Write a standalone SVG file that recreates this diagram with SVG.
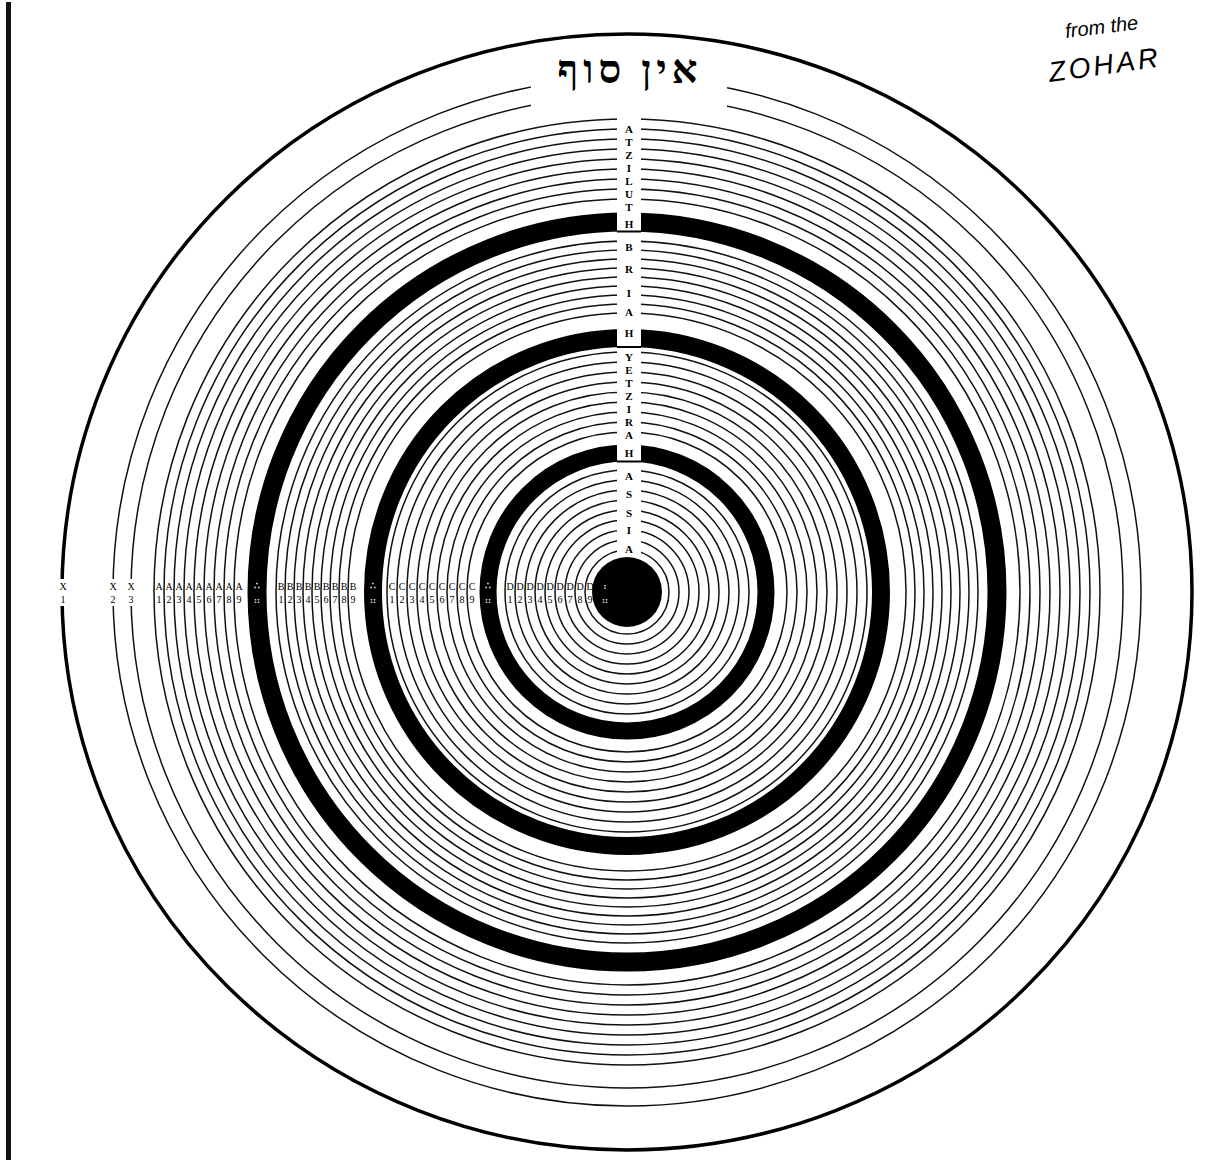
<svg xmlns="http://www.w3.org/2000/svg" width="1206" height="1162" viewBox="0 0 1206 1162">
<style>
.thin{fill:none;stroke:#111;stroke-width:1.5}
.ring{fill:none;stroke:#000}
.lbl{font-family:"Liberation Serif","DejaVu Serif",serif;font-size:10px;fill:#000;text-anchor:middle}
.wl{font-family:"Liberation Serif","DejaVu Serif",serif;font-size:9px;fill:#fff;text-anchor:middle;font-weight:bold}
.vl{font-family:"Liberation Serif","DejaVu Serif",serif;font-size:11px;fill:#000;text-anchor:middle;font-weight:bold}
.hand{font-family:"Liberation Sans","DejaVu Sans",sans-serif;font-style:italic;fill:#000}
</style>
<rect width="1206" height="1162" fill="#fff"/>
<rect id="scan-edge" x="6" y="2" width="5" height="1158" fill="#111"/>

<g id="circles">
<ellipse cx="627" cy="592" rx="565" ry="558" fill="none" stroke="#000" stroke-width="3.5"/>
<circle class="thin" cx="627" cy="592" r="514"/>
<circle class="thin" cx="627" cy="592" r="496"/>
<g id="zone-atziluth">
<circle class="thin" cx="627" cy="592" r="473"/>
<circle class="thin" cx="627" cy="592" r="463"/>
<circle class="thin" cx="627" cy="592" r="453"/>
<circle class="thin" cx="627" cy="592" r="443"/>
<circle class="thin" cx="627" cy="592" r="433"/>
<circle class="thin" cx="627" cy="592" r="423"/>
<circle class="thin" cx="627" cy="592" r="413"/>
<circle class="thin" cx="627" cy="592" r="403"/>
<circle class="thin" cx="627" cy="592" r="393"/>
</g>
<circle class="ring" cx="627" cy="592" r="370" stroke-width="19"/>
<g id="zone-briah">
<circle class="thin" cx="627" cy="592" r="351"/>
<circle class="thin" cx="627" cy="592" r="342"/>
<circle class="thin" cx="627" cy="592" r="333"/>
<circle class="thin" cx="627" cy="592" r="324"/>
<circle class="thin" cx="627" cy="592" r="315"/>
<circle class="thin" cx="627" cy="592" r="306"/>
<circle class="thin" cx="627" cy="592" r="297"/>
<circle class="thin" cx="627" cy="592" r="288"/>
<circle class="thin" cx="627" cy="592" r="279"/>
</g>
<circle class="ring" cx="627" cy="592" r="254" stroke-width="18"/>
<g id="zone-yetzirah">
<circle class="thin" cx="627" cy="592" r="240"/>
<circle class="thin" cx="627" cy="592" r="230"/>
<circle class="thin" cx="627" cy="592" r="220"/>
<circle class="thin" cx="627" cy="592" r="210"/>
<circle class="thin" cx="627" cy="592" r="200"/>
<circle class="thin" cx="627" cy="592" r="190"/>
<circle class="thin" cx="627" cy="592" r="180"/>
<circle class="thin" cx="627" cy="592" r="170"/>
<circle class="thin" cx="627" cy="592" r="160"/>
</g>
<circle class="ring" cx="627" cy="592" r="139" stroke-width="17"/>
<g id="zone-assiah">
<circle class="thin" cx="627" cy="592" r="122"/>
<circle class="thin" cx="627" cy="592" r="112"/>
<circle class="thin" cx="627" cy="592" r="102"/>
<circle class="thin" cx="627" cy="592" r="92"/>
<circle class="thin" cx="627" cy="592" r="82"/>
<circle class="thin" cx="627" cy="592" r="72"/>
<circle class="thin" cx="627" cy="592" r="62"/>
<circle class="thin" cx="627" cy="592" r="52"/>
<circle class="thin" cx="627" cy="592" r="42"/>
</g>
<circle id="core" cx="627" cy="592" r="35" fill="#000"/>
</g>

<g id="title">
<rect x="531" y="45" width="196" height="67" fill="#fff"/>
<text x="630" y="83" font-family="'Liberation Serif','DejaVu Sans',serif" font-weight="bold" font-size="40" text-anchor="middle" letter-spacing="5">אין סוף</text>
</g>

<g id="vertical-column">
<rect x="617" y="113" width="24" height="444" fill="#fff"/>
<rect x="617" y="230.5" width="24" height="2" fill="#000"/>
<rect x="617" y="346" width="24" height="2" fill="#000"/>
<rect x="617" y="460.5" width="24" height="2" fill="#000"/>
<g id="atziluth">
<text class="vl" x="629" y="133">A</text>
<text class="vl" x="629" y="146">T</text>
<text class="vl" x="629" y="159">Z</text>
<text class="vl" x="629" y="172">I</text>
<text class="vl" x="629" y="185">L</text>
<text class="vl" x="629" y="198">U</text>
<text class="vl" x="629" y="211">T</text>
<text class="vl" x="629" y="228">H</text>
</g>
<g id="briah">
<text class="vl" x="629" y="251">B</text>
<text class="vl" x="629" y="273">R</text>
<text class="vl" x="629" y="297">I</text>
<text class="vl" x="629" y="316">A</text>
<text class="vl" x="629" y="337">H</text>
</g>
<g id="yetzirah">
<text class="vl" x="629" y="361">Y</text>
<text class="vl" x="629" y="374">E</text>
<text class="vl" x="629" y="387">T</text>
<text class="vl" x="629" y="400">Z</text>
<text class="vl" x="629" y="413">I</text>
<text class="vl" x="629" y="426">R</text>
<text class="vl" x="629" y="439">A</text>
<text class="vl" x="629" y="457">H</text>
</g>
<g id="assiah">
<text class="vl" x="629" y="480">A</text>
<text class="vl" x="629" y="498">S</text>
<text class="vl" x="629" y="517">S</text>
<text class="vl" x="629" y="534">I</text>
<text class="vl" x="629" y="553">A</text>
<text class="vl" x="629" y="569" fill="#fff">H</text>
</g>
</g>

<g id="horizontal-labels">
<rect x="57" y="579" width="12" height="27" fill="#fff"/>
<rect x="108" y="579" width="11" height="27" fill="#fff"/>
<rect x="126" y="579" width="11" height="27" fill="#fff"/>
<text class="lbl" x="63" y="590">X</text><text class="lbl" x="63" y="603">1</text>
<text class="lbl" x="113" y="590">X</text><text class="lbl" x="113" y="603">2</text>
<text class="lbl" x="131" y="590">X</text><text class="lbl" x="131" y="603">3</text>
<g id="a-labels">
<text class="lbl" x="159" y="590">A</text><text class="lbl" x="159" y="603">1</text>
<text class="lbl" x="169" y="590">A</text><text class="lbl" x="169" y="603">2</text>
<text class="lbl" x="179" y="590">A</text><text class="lbl" x="179" y="603">3</text>
<text class="lbl" x="189" y="590">A</text><text class="lbl" x="189" y="603">4</text>
<text class="lbl" x="199" y="590">A</text><text class="lbl" x="199" y="603">5</text>
<text class="lbl" x="209" y="590">A</text><text class="lbl" x="209" y="603">6</text>
<text class="lbl" x="219" y="590">A</text><text class="lbl" x="219" y="603">7</text>
<text class="lbl" x="229" y="590">A</text><text class="lbl" x="229" y="603">8</text>
<text class="lbl" x="239" y="590">A</text><text class="lbl" x="239" y="603">9</text>
</g>
<text class="wl" x="257" y="589">∴</text><text class="wl" x="257" y="603">::</text>
<g id="b-labels">
<text class="lbl" x="281" y="590">B</text><text class="lbl" x="281" y="603">1</text>
<text class="lbl" x="290" y="590">B</text><text class="lbl" x="290" y="603">2</text>
<text class="lbl" x="299" y="590">B</text><text class="lbl" x="299" y="603">3</text>
<text class="lbl" x="308" y="590">B</text><text class="lbl" x="308" y="603">4</text>
<text class="lbl" x="317" y="590">B</text><text class="lbl" x="317" y="603">5</text>
<text class="lbl" x="326" y="590">B</text><text class="lbl" x="326" y="603">6</text>
<text class="lbl" x="335" y="590">B</text><text class="lbl" x="335" y="603">7</text>
<text class="lbl" x="344" y="590">B</text><text class="lbl" x="344" y="603">8</text>
<text class="lbl" x="353" y="590">B</text><text class="lbl" x="353" y="603">9</text>
</g>
<text class="wl" x="373" y="589">∴</text><text class="wl" x="373" y="603">::</text>
<g id="c-labels">
<text class="lbl" x="392" y="590">C</text><text class="lbl" x="392" y="603">1</text>
<text class="lbl" x="402" y="590">C</text><text class="lbl" x="402" y="603">2</text>
<text class="lbl" x="412" y="590">C</text><text class="lbl" x="412" y="603">3</text>
<text class="lbl" x="422" y="590">C</text><text class="lbl" x="422" y="603">4</text>
<text class="lbl" x="432" y="590">C</text><text class="lbl" x="432" y="603">5</text>
<text class="lbl" x="442" y="590">C</text><text class="lbl" x="442" y="603">6</text>
<text class="lbl" x="452" y="590">C</text><text class="lbl" x="452" y="603">7</text>
<text class="lbl" x="462" y="590">C</text><text class="lbl" x="462" y="603">8</text>
<text class="lbl" x="472" y="590">C</text><text class="lbl" x="472" y="603">9</text>
</g>
<text class="wl" x="488" y="589">∴</text><text class="wl" x="488" y="603">::</text>
<g id="d-labels">
<text class="lbl" x="510" y="590">D</text><text class="lbl" x="510" y="603">1</text>
<text class="lbl" x="520" y="590">D</text><text class="lbl" x="520" y="603">2</text>
<text class="lbl" x="530" y="590">D</text><text class="lbl" x="530" y="603">3</text>
<text class="lbl" x="540" y="590">D</text><text class="lbl" x="540" y="603">4</text>
<text class="lbl" x="550" y="590">D</text><text class="lbl" x="550" y="603">5</text>
<text class="lbl" x="560" y="590">D</text><text class="lbl" x="560" y="603">6</text>
<text class="lbl" x="570" y="590">D</text><text class="lbl" x="570" y="603">7</text>
<text class="lbl" x="580" y="590">D</text><text class="lbl" x="580" y="603">8</text>
<text class="lbl" x="590" y="590">D</text><text class="lbl" x="590" y="603">9</text>
</g>
<text class="wl" x="605" y="589">:</text><text class="wl" x="605" y="603">::</text>
</g>

<g id="note">
<text class="hand" x="1066" y="38" font-size="20" transform="rotate(-7 1066 38)">from the</text>
<text class="hand" x="1050" y="82" font-size="28" letter-spacing="3" transform="rotate(-8 1050 82)">ZOHAR</text>
</g>
</svg>
